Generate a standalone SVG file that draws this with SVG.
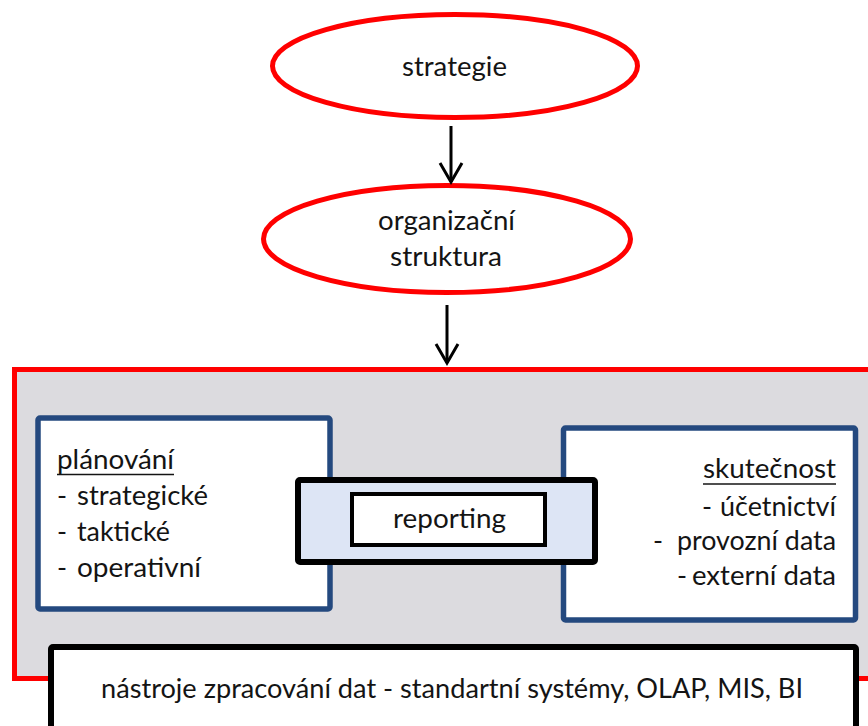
<svg xmlns="http://www.w3.org/2000/svg" width="868" height="726" viewBox="0 0 868 726">
  <style>
    .lbl { font-family: Lato, "Liberation Sans", sans-serif; font-size: 27px; fill: #141414; }
    .oval { fill: #ffffff; stroke: #ff0000; stroke-width: 5; }
    .panel { fill: #ffffff; stroke: #24497f; stroke-width: 5.5; }
    .flow { stroke: #000000; stroke-width: 3; fill: none; }
    .uline { stroke: #141414; stroke-width: 1.6; }
  </style>
  <defs>
    <marker id="chevron" markerUnits="userSpaceOnUse" viewBox="-24 -14 28 28" markerWidth="28" markerHeight="28" refX="0" refY="0" orient="auto" overflow="visible">
      <path d="M-19,-11 L0,0 L-19,11" fill="none" stroke="#000000" stroke-width="3"/>
    </marker>
  </defs>

  <rect width="868" height="726" fill="#ffffff"/>

  <!-- outer frame holding the information flow -->
  <g id="frame">
    <rect x="14.5" y="369.5" width="900" height="309" fill="#dcdbdf" stroke="#ff0000" stroke-width="5"/>
  </g>

  <g id="strategie">
    <ellipse class="oval" cx="455" cy="66" rx="182.5" ry="51.5"/>
    <text class="lbl" x="402" y="76" textLength="105" lengthAdjust="spacingAndGlyphs">strategie</text>
  </g>

  <g id="organizacni-struktura">
    <ellipse class="oval" cx="447" cy="239" rx="183.5" ry="53.5"/>
    <text class="lbl" x="378" y="230" textLength="137" lengthAdjust="spacingAndGlyphs">organizační</text>
    <text class="lbl" x="390" y="266" textLength="112" lengthAdjust="spacingAndGlyphs">struktura</text>
  </g>

  <g id="planovani">
    <rect class="panel" x="38" y="418" width="292" height="191" rx="2"/>
    <text class="lbl" x="57" y="469" textLength="117" lengthAdjust="spacingAndGlyphs">plánování</text>
    <line class="uline" x1="57" y1="474.5" x2="174" y2="474.5"/>
    <text class="lbl" y="505"><tspan x="57">-</tspan> <tspan x="77" textLength="131" lengthAdjust="spacingAndGlyphs">strategické</tspan></text>
    <text class="lbl" y="541"><tspan x="57">-</tspan> <tspan x="77" textLength="93" lengthAdjust="spacingAndGlyphs">taktické</tspan></text>
    <text class="lbl" y="577"><tspan x="57">-</tspan> <tspan x="77" textLength="124" lengthAdjust="spacingAndGlyphs">operativní</tspan></text>
  </g>

  <g id="skutecnost">
    <rect class="panel" x="563.5" y="428" width="292" height="192" rx="2"/>
    <text class="lbl" x="703" y="478" textLength="133" lengthAdjust="spacingAndGlyphs">skutečnost</text>
    <line class="uline" x1="703" y1="484" x2="836" y2="484"/>
    <text class="lbl" y="516"><tspan x="702">-</tspan> <tspan x="720" textLength="116" lengthAdjust="spacingAndGlyphs">účetnictví</tspan></text>
    <text class="lbl" y="550"><tspan x="653">-</tspan> <tspan x="677" textLength="159" lengthAdjust="spacingAndGlyphs">provozní data</tspan></text>
    <text class="lbl" y="585"><tspan x="677">-</tspan> <tspan x="692" textLength="144" lengthAdjust="spacingAndGlyphs">externí data</tspan></text>
  </g>

  <g id="reporting">
    <rect x="298" y="480" width="297" height="82" fill="#dde5f5" stroke="#000000" stroke-width="6" rx="2"/>
    <rect x="352" y="494" width="193" height="51" fill="#ffffff" stroke="#000000" stroke-width="4"/>
    <text class="lbl" x="393" y="528" textLength="113" lengthAdjust="spacingAndGlyphs">reporting</text>
  </g>

  <g id="nastroje">
    <rect x="51" y="647" width="805" height="120" fill="#ffffff" stroke="#000000" stroke-width="6" rx="2"/>
    <text class="lbl" x="101" y="698" textLength="702" lengthAdjust="spacingAndGlyphs">nástroje zpracování dat - standartní systémy, OLAP, MIS, BI</text>
  </g>

  <g id="connectors">
    <line class="flow" x1="451" y1="126" x2="451" y2="182" marker-end="url(#chevron)"/>
    <line class="flow" x1="447" y1="305" x2="447" y2="363" marker-end="url(#chevron)"/>
  </g>
</svg>
